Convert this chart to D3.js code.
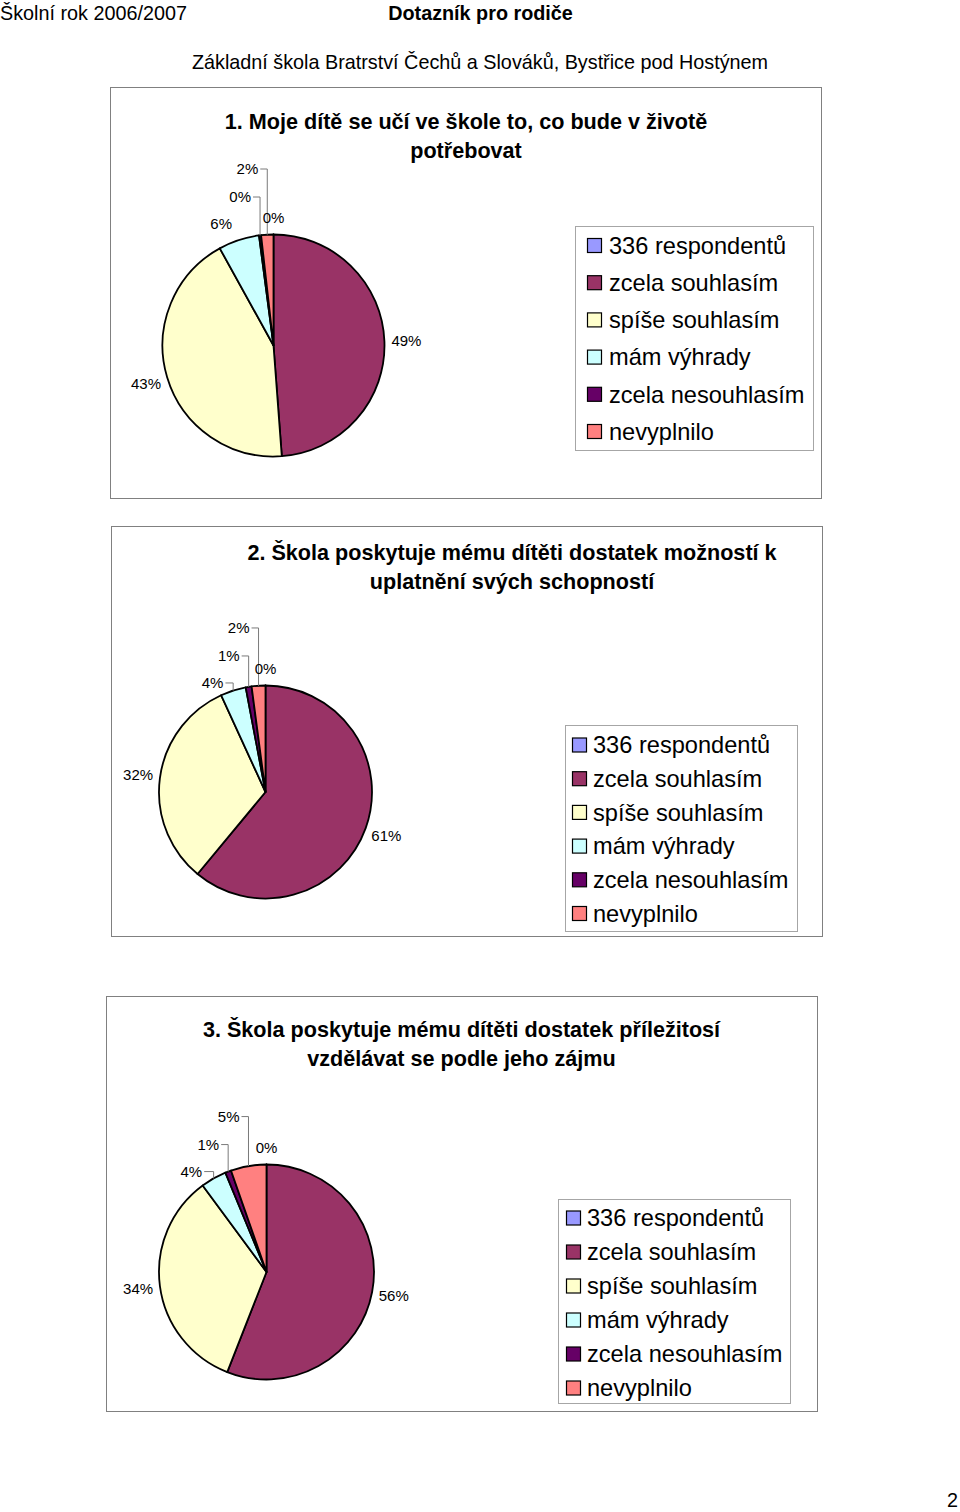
<!DOCTYPE html>
<html><head><meta charset="utf-8">
<script src="https://cdn.jsdelivr.net/npm/d3@7"></script>
<style>body{margin:0;background:#fff}svg{display:block;font-family:"Liberation Sans",Arial,sans-serif}</style>
</head><body>
<svg id="page" width="960" height="1512"></svg>
<script>
// ---------- data ----------
const categories = ["336 respondentů","zcela souhlasím","spíše souhlasím","mám výhrady","zcela nesouhlasím","nevyplnilo"];
const sliceColors = ["#9999FF","#993366","#FFFFCC","#CCFFFF","#660066","#FF8080"];
const q1Values = [0,164,145,20,1,6];
const q2Values = [0,205,108,13,3,7];
const q3Values = [0,188,114,13,3,18];
const q1Title = ["1. Moje dítě se učí ve škole to, co bude v životě","potřebovat"];
const q2Title = ["2. Škola poskytuje mému dítěti dostatek možností k","uplatnění svých schopností"];
const q3Title = ["3. Škola poskytuje mému dítěti dostatek příležitosí","vzdělávat se podle jeho zájmu"];
const headerLeft = "Školní rok 2006/2007";
const headerCenter = "Dotazník pro rodiče";
const schoolName = "Základní škola Bratrství Čechů a Slováků, Bystřice pod Hostýnem";
const pageNumber = "2";

// ---------- layout ----------
const layouts = [
  {frame:{x:110,y:87,w:711,h:411}, titleX:466, titleY:129, cx:273.5, cy:345.5, r:111,
   legend:{x:575,y:226,w:238,h:224,first:245.5,step:37.2,sw:12,tx:34}},
  {frame:{x:111,y:526,w:711,h:410}, titleX:512, titleY:560, cx:265.5, cy:792, r:106.5,
   legend:{x:565,y:725,w:232,h:206,first:745,step:33.7,sw:7,tx:28}},
  {frame:{x:106,y:996,w:711,h:415}, titleX:461.5, titleY:1037, cx:266.5, cy:1272, r:107.5,
   legend:{x:558,y:1199,w:232,h:204,first:1218,step:34,sw:8,tx:29}}
];
const charts = [
  {values:q1Values, title:q1Title},
  {values:q2Values, title:q2Title},
  {values:q3Values, title:q3Title}
];

const svg = d3.select("#page");
const color = d3.scaleOrdinal().domain(categories).range(sliceColors);

// header
svg.append("text").attr("x",0).attr("y",20).attr("font-size",19.8).text(headerLeft);
svg.append("text").attr("x",480.5).attr("y",20).attr("font-size",19.8).attr("font-weight","bold")
  .attr("text-anchor","middle").text(headerCenter);
svg.append("text").attr("x",480).attr("y",69).attr("font-size",19.8)
  .attr("text-anchor","middle").text(schoolName);
svg.append("text").attr("x",958).attr("y",1507).attr("font-size",19.8)
  .attr("text-anchor","end").text(pageNumber);

charts.forEach((c, ci) => {
  const L = layouts[ci];
  const g = svg.append("g");
  g.append("rect").attr("x",L.frame.x+0.5).attr("y",L.frame.y+0.5)
    .attr("width",L.frame.w).attr("height",L.frame.h)
    .attr("fill","#fff").attr("stroke","#808080").attr("stroke-width",1);

  c.title.forEach((t,i) => {
    g.append("text").attr("x",L.titleX).attr("y",L.titleY + i*29)
      .attr("text-anchor","middle").attr("font-size",21.6).attr("font-weight","bold").text(t);
  });

  const total = d3.sum(c.values);
  const arcs = d3.pie().sort(null).value(d => d)(c.values);
  const arc = d3.arc().innerRadius(0).outerRadius(L.r);
  const pg = g.append("g").attr("transform",`translate(${L.cx},${L.cy})`);
  pg.selectAll("path").data(arcs).join("path")
    .attr("d",arc)
    .attr("fill",(d,i) => color(categories[i]))
    .attr("stroke","#000").attr("stroke-width",1.8).attr("stroke-linejoin","round");

  const pct = v => Math.round(v/total*100) + "%";
  const mid = d => (d.startAngle + d.endAngle)/2;
  const pt = (a, rad) => [L.cx + rad*Math.sin(a), L.cy - rad*Math.cos(a)];

  const labels = [];
  let cyanY = 0;
  arcs.forEach((d,i) => {
    const m = mid(d);
    if (i <= 2) {
      const p = pt(m, L.r + (i === 0 ? 17 : 22));
      labels.push({x:p[0], y:p[1], anchor:"middle", text:pct(d.data)});
    } else if (i === 3) {
      const corner = pt(m, L.r + 9);
      const displaced = d.data/total < 0.05;
      const x = corner[0] - (displaced ? 7 : 4);
      const y = corner[1] + (displaced ? 1 : -7.5);
      cyanY = y;
      const lab = {x, y, anchor:"end", text:pct(d.data)};
      if (displaced) {
        const e = pt(m, L.r);
        lab.leader = [[x+2,y],[e[0],y],[e[0],e[1]]];
      }
      labels.push(lab);
    } else {
      const k = i - 3;
      const e = pt(m, L.r);
      const y = cyanY - (k === 1 ? 27 : 55);
      const x = e[0] - 9;
      labels.push({x, y, anchor:"end", text:pct(d.data), leader:[[x+2,y],[e[0],y],[e[0],e[1]]]});
    }
  });

  labels.filter(l => l.leader).forEach(l => {
    g.append("path").attr("d", d3.line()(l.leader))
      .attr("fill","none").attr("stroke","#7a7a7a").attr("stroke-width",1);
  });
  labels.forEach(l => {
    g.append("text").attr("x",l.x).attr("y",l.y).attr("dy","0.35em")
      .attr("text-anchor",l.anchor).attr("font-size",15).text(l.text);
  });

  // legend
  const lg = L.legend;
  g.append("rect").attr("x",lg.x+0.5).attr("y",lg.y+0.5).attr("width",lg.w).attr("height",lg.h)
    .attr("fill","#fff").attr("stroke","#a6a6a6").attr("stroke-width",1);
  const rows = g.selectAll("g.row").data(categories).join("g").attr("class","row")
    .attr("transform",(d,i) => `translate(${lg.x},${lg.first + i*lg.step})`);
  rows.append("rect").attr("x",lg.sw+0.5).attr("y",-7).attr("width",14).attr("height",14)
    .attr("fill",d => color(d)).attr("stroke","#000").attr("stroke-width",1.2);
  rows.append("text").attr("x",lg.tx).attr("y",0).attr("dy","0.35em")
    .attr("font-size",23.6).text(d => d);
});
</script>
</body></html>
